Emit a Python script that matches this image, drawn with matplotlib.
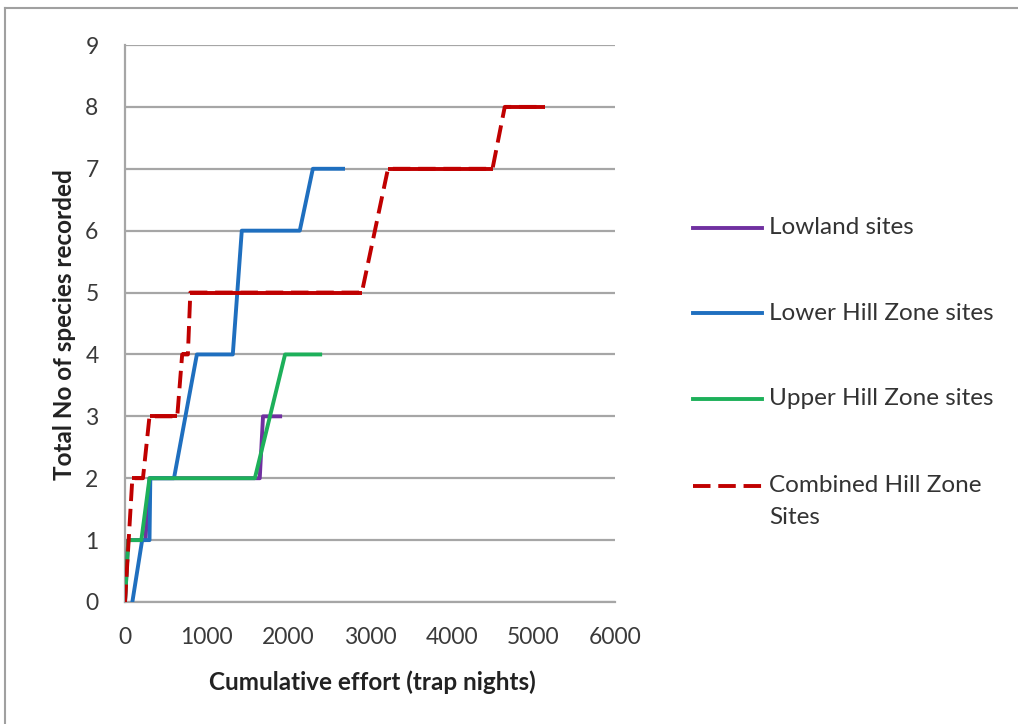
import matplotlib
matplotlib.use("Agg")
import matplotlib.pyplot as plt
from matplotlib.lines import Line2D

# cumulative effort (trap nights) vs species recorded
lowland_x = [0, 40, 250, 300, 1650, 1690, 1900]
lowland_y = [0, 1, 1, 2, 2, 3, 3]

lower_x = [90, 210, 300, 310, 600, 880, 1320, 1430, 2140, 2300, 2670]
lower_y = [0, 1, 1, 2, 2, 4, 4, 6, 6, 7, 7]

upper_x = [0, 40, 200, 300, 1590, 1960, 2390]
upper_y = [0, 1, 1, 2, 2, 4, 4]

combined_x = [0, 90, 220, 300, 640, 700, 770, 800, 2900, 3220, 4500, 4650, 5140]
combined_y = [0, 2, 2, 3, 3, 4, 4, 5, 5, 7, 7, 8, 8]

labels = ["Lowland sites", "Lower Hill Zone sites", "Upper Hill Zone sites",
          "Combined Hill Zone\nSites"]
colors = ["#7030A0", "#1F6FBF", "#1DB05A", "#C00000"]

plt.rcParams['font.family'] = ['Lato', 'DejaVu Sans']

W, H = 1018, 724
fig = plt.figure(figsize=(W / 100, H / 100), dpi=100)
ax = fig.add_axes([125/W, 1 - 602/H, 490/W, 557/H])

lw = 2.8
dash = (0, (4.5, 2.0))
ax.plot(lowland_x, lowland_y, color=colors[0], lw=lw, zorder=3)
ax.plot(lower_x, lower_y, color=colors[1], lw=lw, zorder=4)
ax.plot(upper_x, upper_y, color=colors[2], lw=lw, zorder=5)
ax.plot(combined_x, combined_y, color=colors[3], lw=lw, ls=dash, zorder=6)
# flat runs of the combined series are made of many short segments, so they read solid
for i in range(len(combined_x) - 1):
    if combined_y[i] == combined_y[i + 1]:
        ax.plot(combined_x[i:i + 2], combined_y[i:i + 2], color=colors[3], lw=lw,
                solid_capstyle='butt', zorder=6)

ax.set_xlim(0, 6000)
ax.set_ylim(0, 9)
ax.set_xticks(range(0, 6001, 1000))
ax.set_yticks(range(0, 10))
ax.grid(axis='y', color='#A6A6A6', lw=1.6)
ax.set_axisbelow(True)
for s in ['top', 'right']:
    ax.spines[s].set_visible(False)
for s in ['left', 'bottom']:
    ax.spines[s].set_color('#A6A6A6')
    ax.spines[s].set_linewidth(1.6)
ax.tick_params(length=0, labelsize=16.5, colors='#3a3a3a')
ax.tick_params(axis='y', pad=19)
ax.tick_params(axis='x', pad=18)

fig.text(372/W, 1 - 682/H, "Cumulative effort (trap nights)", fontsize=17.5,
         fontweight='bold', color='#222222', ha='center', va='center')
fig.text(65/W, 1 - 325/H, "Total No of species recorded", fontsize=17.5,
         fontweight='bold', color='#222222', ha='center', va='center', rotation=90)

# legend drawn beside the plot area
rows = [228, 313, 399, 486]
for lab, col, ry in zip(labels, colors, rows):
    fy = 1 - ry / H
    ls = dash if col == colors[3] else '-'
    fig.add_artist(Line2D([693/W, 762/W], [fy, fy], color=col, lw=lw, ls=ls))
    lines = lab.split('\n')
    for k, part in enumerate(lines):
        fig.text(769/W, 1 - (ry + 32 * k) / H, part, fontsize=17.5, color='#333333',
                 va='center')

# chart area border (top and left edges)
fig.add_artist(Line2D([5/W, 5/W], [0, 1 - 8/H], color='#A0A0A0', lw=1.5))
fig.add_artist(Line2D([5/W, 1], [1 - 8/H, 1 - 8/H], color='#A0A0A0', lw=1.5))

fig.savefig("out.png", dpi=100)
